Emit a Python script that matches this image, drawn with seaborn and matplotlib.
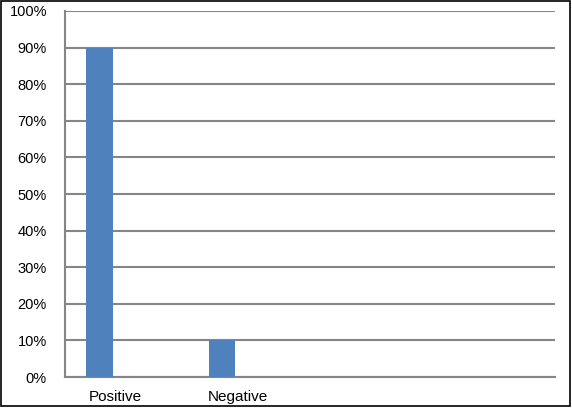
import pandas as pd
import matplotlib.pyplot as plt
import matplotlib.transforms as mtransforms
import seaborn as sns
from matplotlib.ticker import FixedLocator, PercentFormatter

# Data (only the first series carries values)
categories = ["Positive", "Negative"] * 3
values = [90, 10, 0, 0, 0, 0]
series = ["Series 1", "Series 1", "Series 2", "Series 2", "Series 3", "Series 3"]
series_order = ["Series 1", "Series 2", "Series 3"]
slot_order = ["Positive", "Negative", "slot3", "slot4"]
slot_labels = ["Positive", "Negative", "", ""]

df = pd.DataFrame({"category": categories, "share": values, "series": series})

sns.set_style("white")
plt.rcParams['font.family'] = ['Liberation Sans', 'DejaVu Sans']

grid_color = "#868686"
fig = plt.figure(figsize=(5.72, 4.11), dpi=100)
ax = fig.add_axes([65 / 572, 34 / 411, 490 / 572, 366 / 411])

sns.barplot(data=df, x="category", y="share", order=slot_order,
            hue="series", hue_order=series_order,
            palette=["#4F81BD", "#C0504D", "#9BBB59"], saturation=1,
            width=0.65, linewidth=0, ax=ax, legend=False, zorder=3)

ax.set_ylim(0, 100)
ax.set_xlim(-0.5, 3.5)
ax.set_yticks(range(0, 101, 10))
ax.yaxis.set_major_formatter(PercentFormatter(decimals=0))
ax.set_xticks(range(4))
ax.set_xticklabels(slot_labels)
ax.xaxis.set_minor_locator(FixedLocator([-0.5, 0.5, 1.5, 2.5, 3.5]))
ax.tick_params(axis="x", which="major", length=0, labelsize=11, pad=9, labelcolor="black")
ax.tick_params(axis="x", which="minor", length=5, width=1.5, color=grid_color)
ax.tick_params(axis="y", length=5, width=1.5, color=grid_color, labelsize=10.5, pad=8,
               labelcolor="black")
ax.set_xlabel("")
ax.set_ylabel("")

# category labels sit a little left of the slot centre
shift = mtransforms.ScaledTranslation(-11 / 100, 0, fig.dpi_scale_trans)
for lbl in ax.get_xticklabels():
    lbl.set_transform(lbl.get_transform() + shift)

ax.yaxis.grid(True, color=grid_color, linewidth=1.5, zorder=0)
ax.set_axisbelow(True)
for side in ["top", "right"]:
    ax.spines[side].set_visible(False)
for side in ["left", "bottom"]:
    ax.spines[side].set_color(grid_color)
    ax.spines[side].set_linewidth(1.5)

# Outer frame around the whole chart
fig.patches.append(plt.Rectangle((0.002, 0.012), 0.994, 0.985, transform=fig.transFigure,
                                 fill=False, edgecolor="black", linewidth=1.2))

fig.savefig("out.png", dpi=100)
